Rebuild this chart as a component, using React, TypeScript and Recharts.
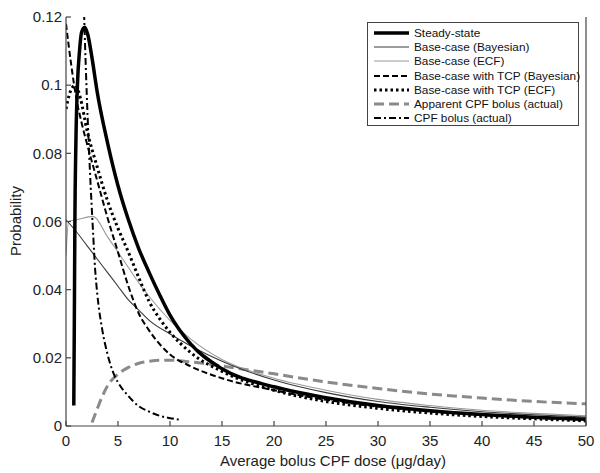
import { LineChart, Line, XAxis, YAxis, Label } from 'recharts';

// x: average bolus CPF dose (µg/day), y: probability
const xTicks = [0, 5, 10, 15, 20, 25, 30, 35, 40, 45, 50];
const yTicks = [0, 0.02, 0.04, 0.06, 0.08, 0.1, 0.12];

const steadyState: [number, number][] = [
  [0.75, 0.006], [0.8, 0.03], [0.85, 0.058], [0.95, 0.083], [1.1, 0.1], [1.3, 0.11],
  [1.5, 0.1155], [1.8, 0.117], [2.1, 0.1148], [2.5, 0.108], [3, 0.098], [4, 0.083],
  [5, 0.0705], [6, 0.0605], [7, 0.052], [8, 0.045], [9, 0.0385], [10, 0.0325], [12, 0.024],
  [15, 0.0168], [20, 0.0115], [25, 0.0083], [30, 0.006], [35, 0.0045], [40, 0.0034],
  [45, 0.0026], [50, 0.002],
];

const baseBayesian: [number, number][] = [
  [0, 0.0605], [1, 0.057], [2, 0.053], [3, 0.049], [4, 0.045], [5, 0.041], [6, 0.037],
  [7, 0.034], [8, 0.031], [10, 0.027], [12, 0.0235], [15, 0.019], [20, 0.0135],
  [25, 0.0098], [30, 0.0072], [35, 0.0055], [40, 0.0042], [45, 0.0033], [50, 0.0026],
];

const baseEcf: [number, number][] = [
  [0, 0.05], [0.25, 0.06], [1, 0.0605], [2.6, 0.0615], [4, 0.0555], [5, 0.051],
  [6, 0.0465], [7, 0.042], [8, 0.038], [10, 0.031], [12, 0.0255], [15, 0.0195],
  [20, 0.014], [25, 0.0105], [30, 0.0078], [35, 0.006], [40, 0.0046], [45, 0.0037],
  [50, 0.003],
];

const tcpBayesian: [number, number][] = [
  [0, 0.118], [0.5, 0.106], [1, 0.096], [1.5, 0.089], [2, 0.083], [3, 0.072], [4, 0.061],
  [5, 0.051], [6, 0.041], [7, 0.033], [8, 0.028], [10, 0.021], [12, 0.0175], [15, 0.014],
  [20, 0.0105], [25, 0.0077], [30, 0.0057], [35, 0.0043], [40, 0.0032], [45, 0.0024],
  [50, 0.0018],
];

const tcpEcf: [number, number][] = [
  [0, 0.093], [0.4, 0.098], [0.9, 0.1], [1.4, 0.096], [2, 0.087], [3, 0.076], [4, 0.066],
  [5, 0.058], [6, 0.051], [7, 0.0435], [8, 0.0365], [9, 0.0315], [10, 0.0275],
  [12, 0.0215], [15, 0.016], [20, 0.0105], [25, 0.0072], [30, 0.0052], [35, 0.0038],
  [40, 0.0028], [45, 0.0021], [50, 0.0015],
];

const apparentBolus: [number, number][] = [
  [2.5, 0.001], [3, 0.005], [3.5, 0.0088], [4, 0.0118], [5, 0.0152], [6, 0.0172],
  [7, 0.0184], [8, 0.019], [9, 0.0193], [10, 0.0193], [12, 0.0188], [15, 0.0176],
  [20, 0.0153], [25, 0.0129], [30, 0.011], [35, 0.0094], [40, 0.0082], [45, 0.0072],
  [50, 0.0065],
];

const cpfBolus: [number, number][] = [
  [1.65, 0.13], [1.8, 0.115], [2, 0.097], [2.3, 0.075], [2.6, 0.057], [2.8, 0.046],
  [3, 0.039], [3.5, 0.028], [4, 0.021], [4.7, 0.0145], [5, 0.0128], [6, 0.0088],
  [7, 0.0058], [8, 0.0042], [9, 0.003], [10, 0.0023], [11, 0.0018],
];

const pts = (s: [number, number][]) => s.map(([x, y]) => ({ x, y }));

const FONT = '"Liberation Sans", Arial, Helvetica, sans-serif';

type S = { name: string; data: [number, number][]; stroke: string; width: number; dash?: string };

// legend order
const series: S[] = [
  { name: 'Steady-state', data: steadyState, stroke: '#000', width: 3.5 },
  { name: 'Base-case (Bayesian)', data: baseBayesian, stroke: '#3a3a3a', width: 1.1 },
  { name: 'Base-case (ECF)', data: baseEcf, stroke: '#9a9a9a', width: 1.1 },
  { name: 'Base-case with TCP (Bayesian)', data: tcpBayesian, stroke: '#000', width: 2, dash: '6 3' },
  { name: 'Base-case with TCP (ECF)', data: tcpEcf, stroke: '#000', width: 3, dash: '2.5 3' },
  { name: 'Apparent CPF bolus (actual)', data: apparentBolus, stroke: '#8a8a8a', width: 3, dash: '10 5' },
  { name: 'CPF bolus (actual)', data: cpfBolus, stroke: '#000', width: 2, dash: '7 3 2 3' },
];

// draw order: gray under black
const drawOrder = [5, 2, 1, 3, 4, 6, 0];

const axisStyle = { stroke: '#444', strokeWidth: 1.2 };
const tickStyle = { fill: '#222', fontSize: 15, fontFamily: FONT };

const LegendBox = () => (
  <div
    style={{
      position: 'absolute', left: 367, top: 22, width: 212, height: 104, boxSizing: 'border-box',
      border: '1px solid #444', background: '#fff', fontFamily: FONT, fontSize: 11.8, color: '#111',
    }}
  >
    {series.map((s, i) => (
      <div key={s.name} style={{ position: 'absolute', left: 0, top: 2.5 + i * 14.3, height: 14.3, display: 'flex', alignItems: 'center' }}>
        <svg width={46} height={14} style={{ display: 'block' }}>
          <line x1={6} x2={41} y1={7} y2={7} stroke={s.stroke} strokeWidth={s.width} strokeDasharray={s.dash} />
        </svg>
        <span style={{ whiteSpace: 'nowrap' }}>{s.name}</span>
      </div>
    ))}
  </div>
);

export default function App() {
  return (
    <div style={{ position: 'absolute', left: 0, top: 0, width: 600, height: 473, background: '#fff' }}>
      <LineChart width={600} height={473} margin={{ top: 17, right: 13, left: 0, bottom: 0 }}>
        <XAxis
          dataKey="x" type="number" domain={[0, 50]} ticks={xTicks} allowDataOverflow
          height={47} tickSize={-5} tickMargin={14} axisLine={axisStyle} tickLine={axisStyle} tick={tickStyle}
        >
          <Label
            content={() => (
              <text x={333} y={466} textAnchor="middle" fontSize={15} fontFamily={FONT} fill="#222">
                Average bolus CPF dose (μg/day)
              </text>
            )}
          />
        </XAxis>
        <XAxis
          xAxisId="top" orientation="top" dataKey="x" type="number" domain={[0, 50]} ticks={xTicks}
          height={0} tickSize={-5} tick={false} axisLine={axisStyle} tickLine={axisStyle}
        />
        <YAxis
          type="number" domain={[0, 0.12]} ticks={yTicks} allowDataOverflow width={66}
          tickSize={-5} tickMargin={9} axisLine={axisStyle} tickLine={axisStyle} tick={tickStyle}
        >
          <Label
            content={() => (
              <text x={15} y={221} transform="rotate(-90 15 221)" textAnchor="middle" dominantBaseline="central"
                fontSize={15} fontFamily={FONT} fill="#222">
                Probability
              </text>
            )}
          />
        </YAxis>
        <YAxis
          yAxisId="right" orientation="right" type="number" domain={[0, 0.12]} ticks={yTicks}
          width={1} tickSize={-5} tick={false} axisLine={axisStyle} tickLine={axisStyle}
        />
        {drawOrder.map((i) => {
          const s = series[i];
          return (
            <Line
              key={s.name} data={pts(s.data)} dataKey="y" type="monotone" stroke={s.stroke}
              strokeWidth={s.width} strokeDasharray={s.dash} dot={false} activeDot={false}
              isAnimationActive={false} legendType="none"
            />
          );
        })}
      </LineChart>
      <LegendBox />
    </div>
  );
}
